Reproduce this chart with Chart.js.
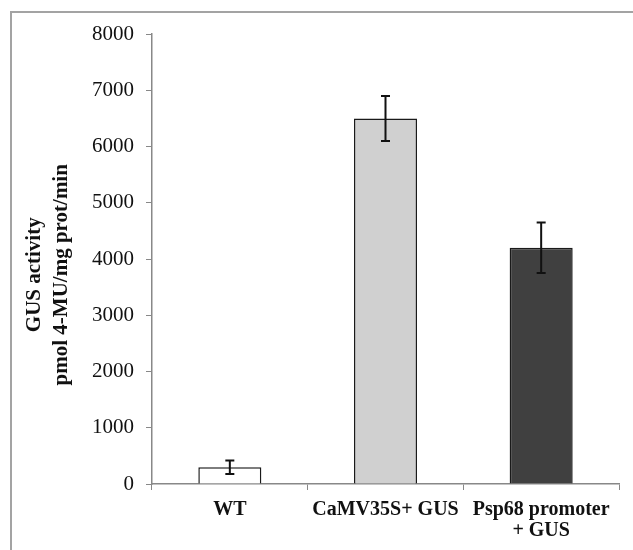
<!DOCTYPE html>
<html>
<head>
<meta charset="utf-8">
<script src="https://cdn.jsdelivr.net/npm/chart.js@4"></script>
<style>
  html, body { margin: 0; padding: 0; background: #fff; }
  #wrap { position: relative; width: 633px; height: 550px; overflow: hidden; }
  #frame { position: absolute; left: 10px; top: 11px; width: 640px; height: 560px;
           border-left: 2px solid #a3a3a3; border-top: 2px solid #a3a3a3; }
  canvas { position: absolute; left: 0; top: 0; }
</style>
</head>
<body>
<div id="wrap">
  <div id="frame"></div>
  <canvas id="chart" width="633" height="550"></canvas>
</div>
<script>
const categories = ['WT', 'CaMV35S+ GUS', ['Psp68 promoter', '+ GUS']];
const activity = [300, 6500, 4200];
const activityErr = [120, 400, 450];
const barColors = ['#ffffff', '#d0d0d0', '#404040'];
const yTicks = [0, 1000, 2000, 3000, 4000, 5000, 6000, 7000, 8000];

// error bars drawn through the y scale
const errorBars = {
  id: 'errorBars',
  afterDatasetsDraw(chart) {
    const ctx = chart.ctx;
    const meta = chart.getDatasetMeta(0);
    const y = chart.scales.y;
    ctx.save();
    ctx.strokeStyle = '#111';
    ctx.lineWidth = 2;
    meta.data.forEach((bar, i) => {
      const top = y.getPixelForValue(activity[i] + activityErr[i]);
      const bot = y.getPixelForValue(activity[i] - activityErr[i]);
      const x = bar.x;
      ctx.beginPath();
      ctx.moveTo(x, top); ctx.lineTo(x, bot);
      ctx.moveTo(x - 4.5, top); ctx.lineTo(x + 4.5, top);
      ctx.moveTo(x - 4.5, bot); ctx.lineTo(x + 4.5, bot);
      ctx.stroke();
    });
    ctx.restore();
  }
};

const ctx = document.getElementById('chart').getContext('2d');
new Chart(ctx, {
  type: 'bar',
  data: {
    labels: categories,
    datasets: [{
      data: activity,
      backgroundColor: barColors,
      borderColor: '#1a1a1a',
      borderWidth: 1.5,
      barPercentage: 0.405,
      categoryPercentage: 1
    }]
  },
  options: {
    responsive: false,
    animation: false,
    layout: { padding: { left: 0, top: 34, right: 14, bottom: 0 } },
    plugins: { legend: { display: false }, tooltip: { enabled: false } },
    scales: {
      x: {
        afterFit: s => { s.height = 66; },
        grid: { drawOnChartArea: false, color: '#888', tickLength: 6, offset: true },
        border: { color: '#888', width: 1.5 },
        ticks: {
          color: '#111', padding: 9, maxRotation: 0, autoSkip: false,
          font: { family: 'Liberation Serif', size: 20, weight: 'bold', lineHeight: 1.05 }
        }
      },
      y: {
        min: 0, max: 8000,
        afterFit: s => { s.width = 152; },
        afterBuildTicks: s => { s.ticks = yTicks.map(v => ({ value: v })); },
        grid: { drawOnChartArea: false, color: '#888', tickLength: 6 },
        border: { color: '#888', width: 1.5 },
        ticks: {
          color: '#111', padding: 12,
          callback: v => String(v),
          font: { family: 'Liberation Serif', size: 21 }
        },
        title: {
          display: true,
          // trailing spaces push the rotated text a little lower, as in the original
          text: ['GUS activity      ', 'pmol 4-MU/mg prot/min      '],
          color: '#111',
          padding: { top: 21, bottom: 0 },
          font: { family: 'Liberation Serif', size: 21, weight: 'bold', lineHeight: 1.3 }
        }
      }
    }
  },
  plugins: [errorBars]
});
</script>
</body>
</html>
